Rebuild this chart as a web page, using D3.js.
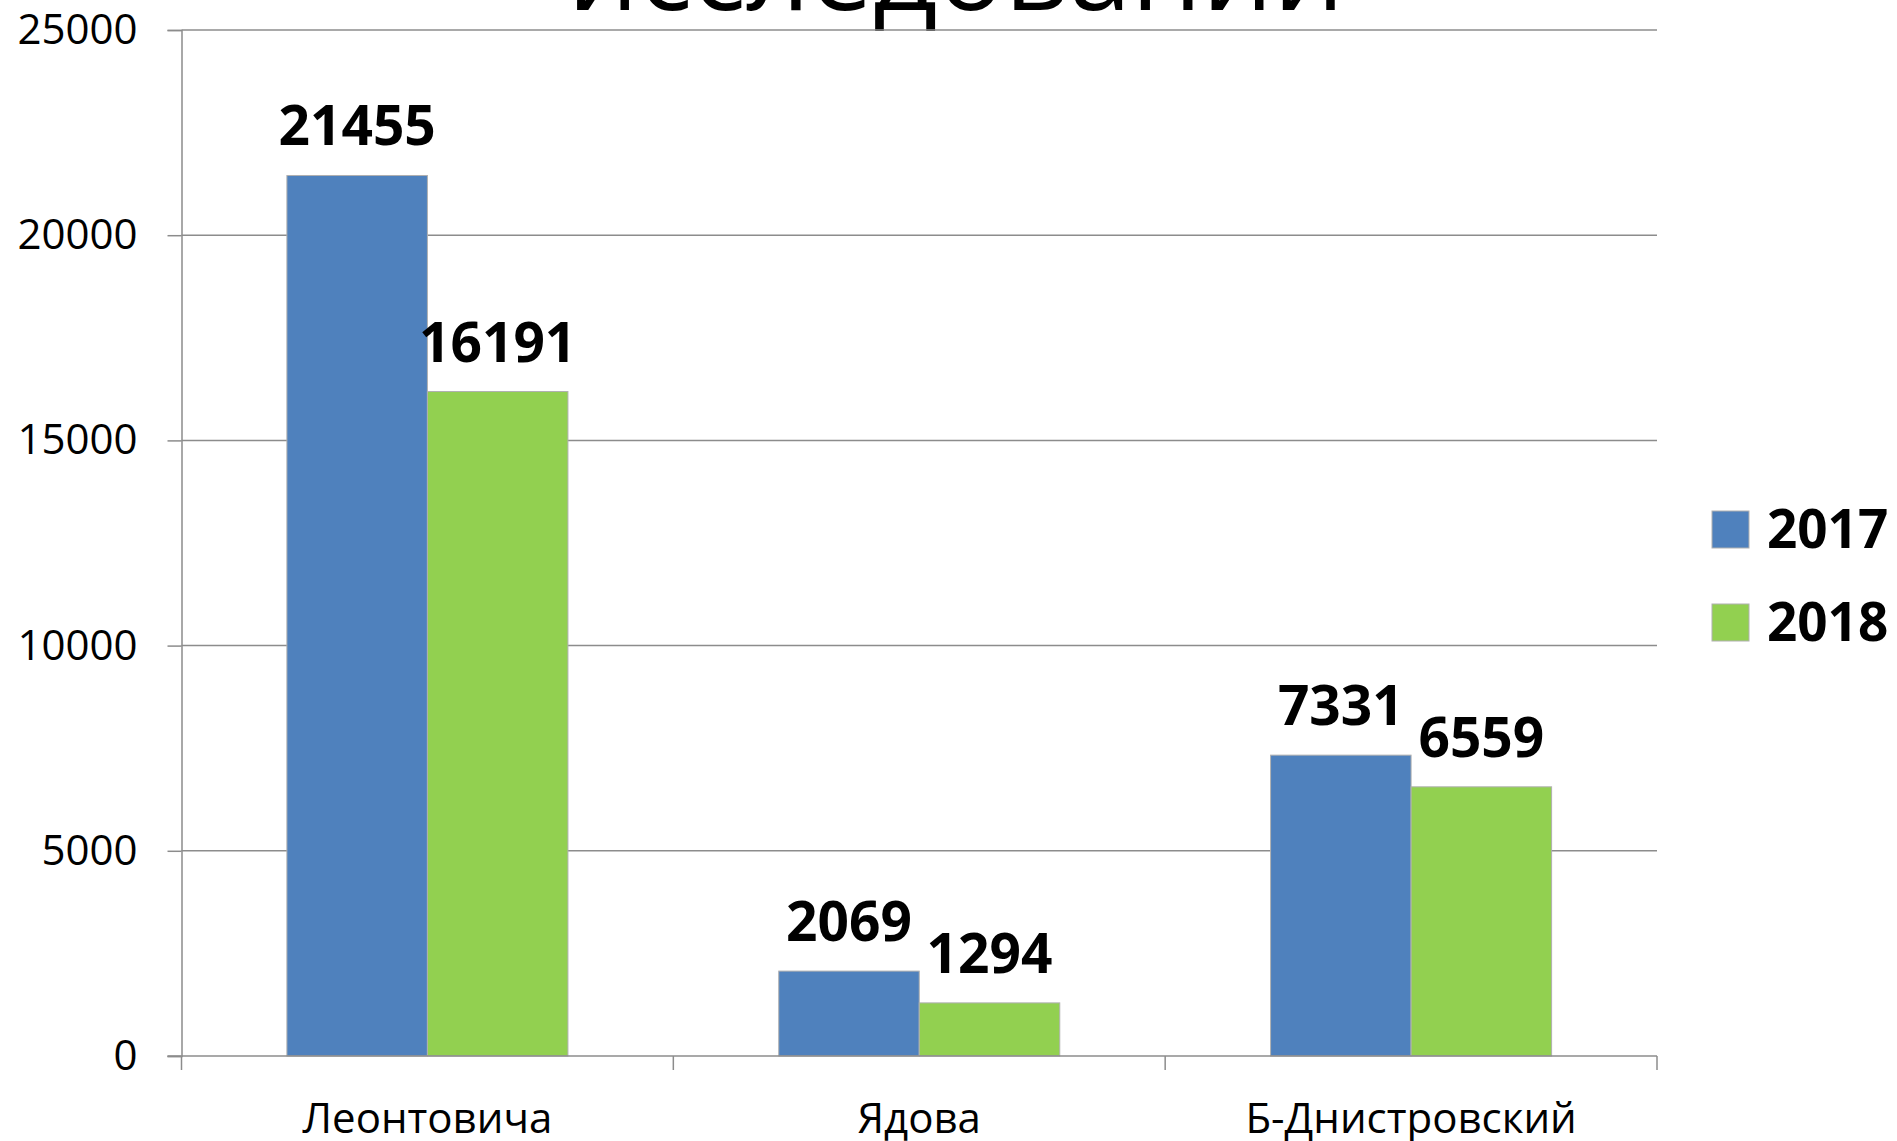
<!DOCTYPE html>
<html>
<head>
<meta charset="utf-8">
<script src="https://cdn.jsdelivr.net/npm/d3@7"></script>
<style>
  html, body { margin: 0; padding: 0; background: #fff; }
  svg { display: block; }
</style>
</head>
<body>
<div id="chart"></div>
<script>
const categories = ['Леонтовича', 'Ядова', 'Б-Днистровский'];
const seriesNames = ['2017', '2018'];
const values2017 = [21455, 2069, 7331];
const values2018 = [16191, 1294, 6559];
const yTicks = [0, 5000, 10000, 15000, 20000, 25000];
const titleText = 'исследований';

const width = 1897, height = 1141;
const margin = { top: 30, right: 240, bottom: 85, left: 181.5 };
const innerWidth = 1657 - margin.left;
const innerHeight = 1056 - margin.top;
const colors = { '2017': '#4F81BD', '2018': '#92D050' };
const font = '"Open Sans", sans-serif';

const data = categories.map((c, i) => ({
  cat: c,
  vals: [
    { key: '2017', v: values2017[i] },
    { key: '2018', v: values2018[i] }
  ]
}));

const svg = d3.select('#chart').append('svg')
  .attr('width', width).attr('height', height);

/* Title (cut off at top) */
svg.append('text')
  .attr('x', 956).attr('y', 10)
  .attr('text-anchor', 'middle')
  .attr('font-family', font).attr('font-size', '112px')
  .attr('fill', '#000')
  .text(titleText);

const g = svg.append('g')
  .attr('transform', `translate(${margin.left},${margin.top})`);

const x0 = d3.scaleBand().domain(categories).range([0, innerWidth]).paddingInner(0).paddingOuter(0);
const x1 = d3.scaleBand().domain(seriesNames).range([0, x0.bandwidth() * 0.5714])
  .paddingInner(0).paddingOuter(0);
const groupOffset = (x0.bandwidth() - x1.range()[1]) / 2;
const y = d3.scaleLinear().domain([0, 25000]).range([innerHeight, 0]);

/* Grid */
g.selectAll('.grid')
  .data(yTicks.filter(d => d > 0)).join('line')
  .attr('x1', 0).attr('x2', innerWidth)
  .attr('y1', d => y(d)).attr('y2', d => y(d))
  .attr('stroke', '#8c8c8c').attr('stroke-width', 1.5);

/* Bars */
const groups = g.selectAll('.grp')
  .data(data).join('g')
  .attr('transform', d => `translate(${x0(d.cat) + groupOffset},0)`);

groups.selectAll('rect')
  .data(d => d.vals).join('rect')
  .attr('x', d => x1(d.key))
  .attr('width', x1.bandwidth())
  .attr('y', d => y(d.v))
  .attr('height', d => innerHeight - y(d.v))
  .attr('fill', d => colors[d.key])
  .attr('stroke', '#b0b0b0').attr('stroke-width', 1);

/* Value labels */
groups.selectAll('text.val')
  .data(d => d.vals).join('text')
  .attr('class', 'val')
  .attr('x', d => x1(d.key) + x1.bandwidth() / 2)
  .attr('y', d => y(d.v) - 30)
  .attr('text-anchor', 'middle')
  .attr('font-family', font).attr('font-weight', 700).attr('font-size', '55px')
  .attr('fill', '#000')
  .text(d => d.v);

/* Left axis */
g.append('g')
  .call(d3.axisLeft(y).tickValues(yTicks).tickFormat(d3.format('d')).tickSize(14).tickPadding(30))
  .call(ax => {
    ax.select('.domain').attr('stroke', '#8c8c8c').attr('stroke-width', 1.5);
    ax.selectAll('.tick line').attr('stroke', '#8c8c8c').attr('stroke-width', 1.5);
  })
  .selectAll('text')
    .attr('font-family', font).attr('font-size', '42px').attr('fill', '#000');

/* Bottom axis */
const xAxisG = g.append('g')
  .attr('transform', `translate(0,${innerHeight})`);
xAxisG.append('line')
  .attr('x1', -14).attr('x2', innerWidth)
  .attr('stroke', '#8c8c8c').attr('stroke-width', 1.5);
xAxisG.selectAll('.xtick')
  .data(d3.range(categories.length + 1)).join('line')
  .attr('x1', i => i < categories.length ? x0(categories[i]) : innerWidth)
  .attr('x2', i => i < categories.length ? x0(categories[i]) : innerWidth)
  .attr('y1', 0).attr('y2', 14)
  .attr('stroke', '#8c8c8c').attr('stroke-width', 1.5);
xAxisG.selectAll('.xlab')
  .data(categories).join('text')
  .attr('x', d => x0(d) + x0.bandwidth() / 2)
  .attr('y', 77)
  .attr('text-anchor', 'middle')
  .attr('font-family', font).attr('font-size', '42px').attr('fill', '#000')
  .text(d => d);

/* Legend */
const leg = svg.append('g').attr('transform', 'translate(1712,511)');
seriesNames.forEach((s, i) => {
  const r = leg.append('g').attr('transform', `translate(0,${i * 93})`);
  r.append('rect').attr('width', 37).attr('height', 37)
    .attr('fill', colors[s]).attr('stroke', '#b0b0b0').attr('stroke-width', 1);
  r.append('text').attr('x', 55).attr('y', 37)
    .attr('font-family', font).attr('font-weight', 700).attr('font-size', '53px')
    .attr('fill', '#000')
    .text(s);
});
</script>
</body>
</html>
